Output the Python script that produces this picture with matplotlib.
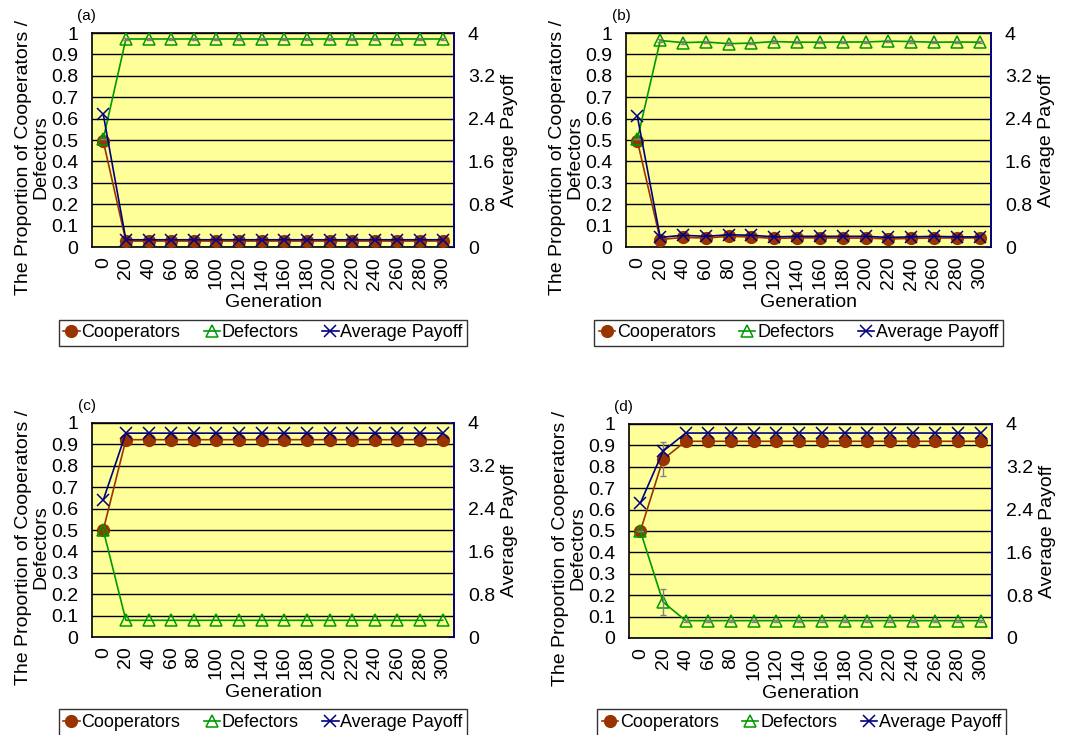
import matplotlib
matplotlib.use('Agg')
import matplotlib.pyplot as plt

plt.rcParams['font.family'] = ['Liberation Sans', 'DejaVu Sans']

# ----------------------------------------------------
# Data
# ----------------------------------------------------
generations = ['0', '20', '40', '60', '80', '100', '120', '140', '160',
               '180', '200', '220', '240', '260', '280', '300']

coop_a = [0.495] + [0.028] * 15
defe_a = [0.505] + [0.972] * 15
pay_a = [2.48] + [0.136] * 15

coop_b = [0.495, 0.035, 0.045, 0.042, 0.050, 0.047, 0.040, 0.043, 0.043,
          0.042, 0.042, 0.038, 0.040, 0.043, 0.042, 0.043]
defe_b = [0.505, 0.965, 0.955, 0.958, 0.950, 0.953, 0.960, 0.957, 0.957,
          0.958, 0.958, 0.962, 0.960, 0.957, 0.958, 0.957]
pay_b = [2.44, 0.18, 0.22, 0.20, 0.23, 0.22, 0.19, 0.20, 0.20,
         0.20, 0.20, 0.18, 0.19, 0.20, 0.19, 0.19]

coop_c = [0.50] + [0.922] * 15
defe_c = [0.50] + [0.078] * 15
pay_c = [2.56] + [3.81] * 15

coop_d = [0.50, 0.835] + [0.919] * 14
defe_d = [0.50, 0.168] + [0.081] * 14
pay_d = [2.52, 3.49] + [3.83] * 14

# error bars (only visible ones at gen 20 of panel d, tiny elsewhere)
coop_err_d = [0.0, 0.08] + [0.005] * 14
defe_err_d = [0.0, 0.062] + [0.005] * 14
defe_err_ab = [0.0] + [0.006] * 15

left_ticks = [0, 0.1, 0.2, 0.3, 0.4, 0.5, 0.6, 0.7, 0.8, 0.9, 1]
left_tick_labels = ['0', '0.1', '0.2', '0.3', '0.4', '0.5', '0.6', '0.7',
                    '0.8', '0.9', '1']
right_ticks = [0, 0.8, 1.6, 2.4, 3.2, 4]
right_tick_labels = ['0', '0.8', '1.6', '2.4', '3.2', '4']

COOP_COLOR = '#993300'
DEF_COLOR = '#009900'
PAY_COLOR = '#000080'
BG_COLOR = '#FFFF99'
FS = 14
LEG_FS = 13


def draw_panel(fig, rect, label, coop, defe, pay, legend_xy,
               coop_err=None, defe_err=None):
    ax = fig.add_axes(rect)
    ax.set_facecolor(BG_COLOR)
    x = list(range(len(generations)))

    if coop_err is not None:
        ax.errorbar(x, coop, yerr=coop_err, fmt='none', ecolor='#808080',
                    elinewidth=1, capsize=2.5, zorder=2)
    if defe_err is not None:
        ax.errorbar(x, defe, yerr=defe_err, fmt='none', ecolor='#808080',
                    elinewidth=1, capsize=2.5, zorder=4)

    h1, = ax.plot(x, coop, color=COOP_COLOR, marker='o', markersize=8.5,
                  markerfacecolor=COOP_COLOR, markeredgecolor=COOP_COLOR,
                  linewidth=1.2, label='Cooperators', zorder=3)
    h2, = ax.plot(x, defe, color=DEF_COLOR, marker='^', markersize=9,
                  markerfacecolor='none', markeredgecolor=DEF_COLOR,
                  markeredgewidth=1.1, linewidth=1.2, label='Defectors',
                  zorder=3)

    ax.set_xlim(-0.5, len(generations) - 0.5)
    ax.set_ylim(0, 1)
    ax.set_xticks(x)
    ax.set_xticklabels(generations, rotation=90, fontsize=FS)
    ax.set_yticks(left_ticks)
    ax.set_yticklabels(left_tick_labels, fontsize=FS)
    ax.tick_params(axis='y', length=0, pad=10)
    ax.tick_params(axis='x', length=0, pad=7)
    ax.yaxis.grid(True, color='black', linewidth=1)
    ax.set_axisbelow(True)
    ax.set_xlabel('Generation', fontsize=FS, labelpad=3)
    ax.set_ylabel('The Proportion of Cooperators /\nDefectors', fontsize=FS,
                  linespacing=1.0)
    # the label sits a little below the axes centre in the original
    ax.yaxis.set_label_coords(-0.118, 0.42)
    for side in ['left', 'bottom', 'top']:
        ax.spines[side].set_color('black')
        ax.spines[side].set_linewidth(1.2)
    ax.spines['right'].set_visible(False)

    ax2 = ax.twinx()
    h3, = ax2.plot(x, pay, color=PAY_COLOR, marker='x', markersize=8,
                   markeredgewidth=1.1, linewidth=1.2, label='Average Payoff',
                   zorder=5)
    ax2.set_ylim(0, 4)
    ax2.set_yticks(right_ticks)
    ax2.set_yticklabels(right_tick_labels, fontsize=FS)
    ax2.tick_params(axis='y', direction='in', length=4, color=PAY_COLOR,
                    pad=10)
    ax2.set_ylabel('Average Payoff', fontsize=FS, labelpad=4)
    for side in ['left', 'bottom', 'top']:
        ax2.spines[side].set_visible(False)
    ax2.spines['right'].set_color(PAY_COLOR)
    ax2.spines['right'].set_linewidth(1.4)

    ax.text(-0.014, 1.08, label, transform=ax.transAxes, fontsize=11,
            ha='center', va='center')

    leg = fig.legend(handles=[h1, h2, h3], loc='center',
                     bbox_to_anchor=legend_xy, ncol=3, fontsize=LEG_FS,
                     frameon=True, fancybox=False, handlelength=0.9,
                     handletextpad=0.1, columnspacing=1.3, borderpad=0.25)
    leg.get_frame().set_edgecolor('black')
    leg.get_frame().set_linewidth(1.0)
    return ax, ax2


fig = plt.figure(figsize=(10.78, 7.35), dpi=100)

draw_panel(fig, [0.0853, 0.6639, 0.3359, 0.2912], '(a)',
           coop_a, defe_a, pay_a, (0.244, 0.5476), defe_err=defe_err_ab)
draw_panel(fig, [0.5807, 0.6639, 0.3386, 0.2912], '(b)',
           coop_b, defe_b, pay_b, (0.7407, 0.5476), defe_err=defe_err_ab)
draw_panel(fig, [0.0853, 0.1333, 0.3359, 0.2912], '(c)',
           coop_c, defe_c, pay_c, (0.244, 0.017))
draw_panel(fig, [0.5835, 0.1320, 0.3367, 0.2912], '(d)',
           coop_d, defe_d, pay_d, (0.7435, 0.017),
           coop_err=coop_err_d, defe_err=defe_err_d)

fig.savefig('out.png', dpi=100)
